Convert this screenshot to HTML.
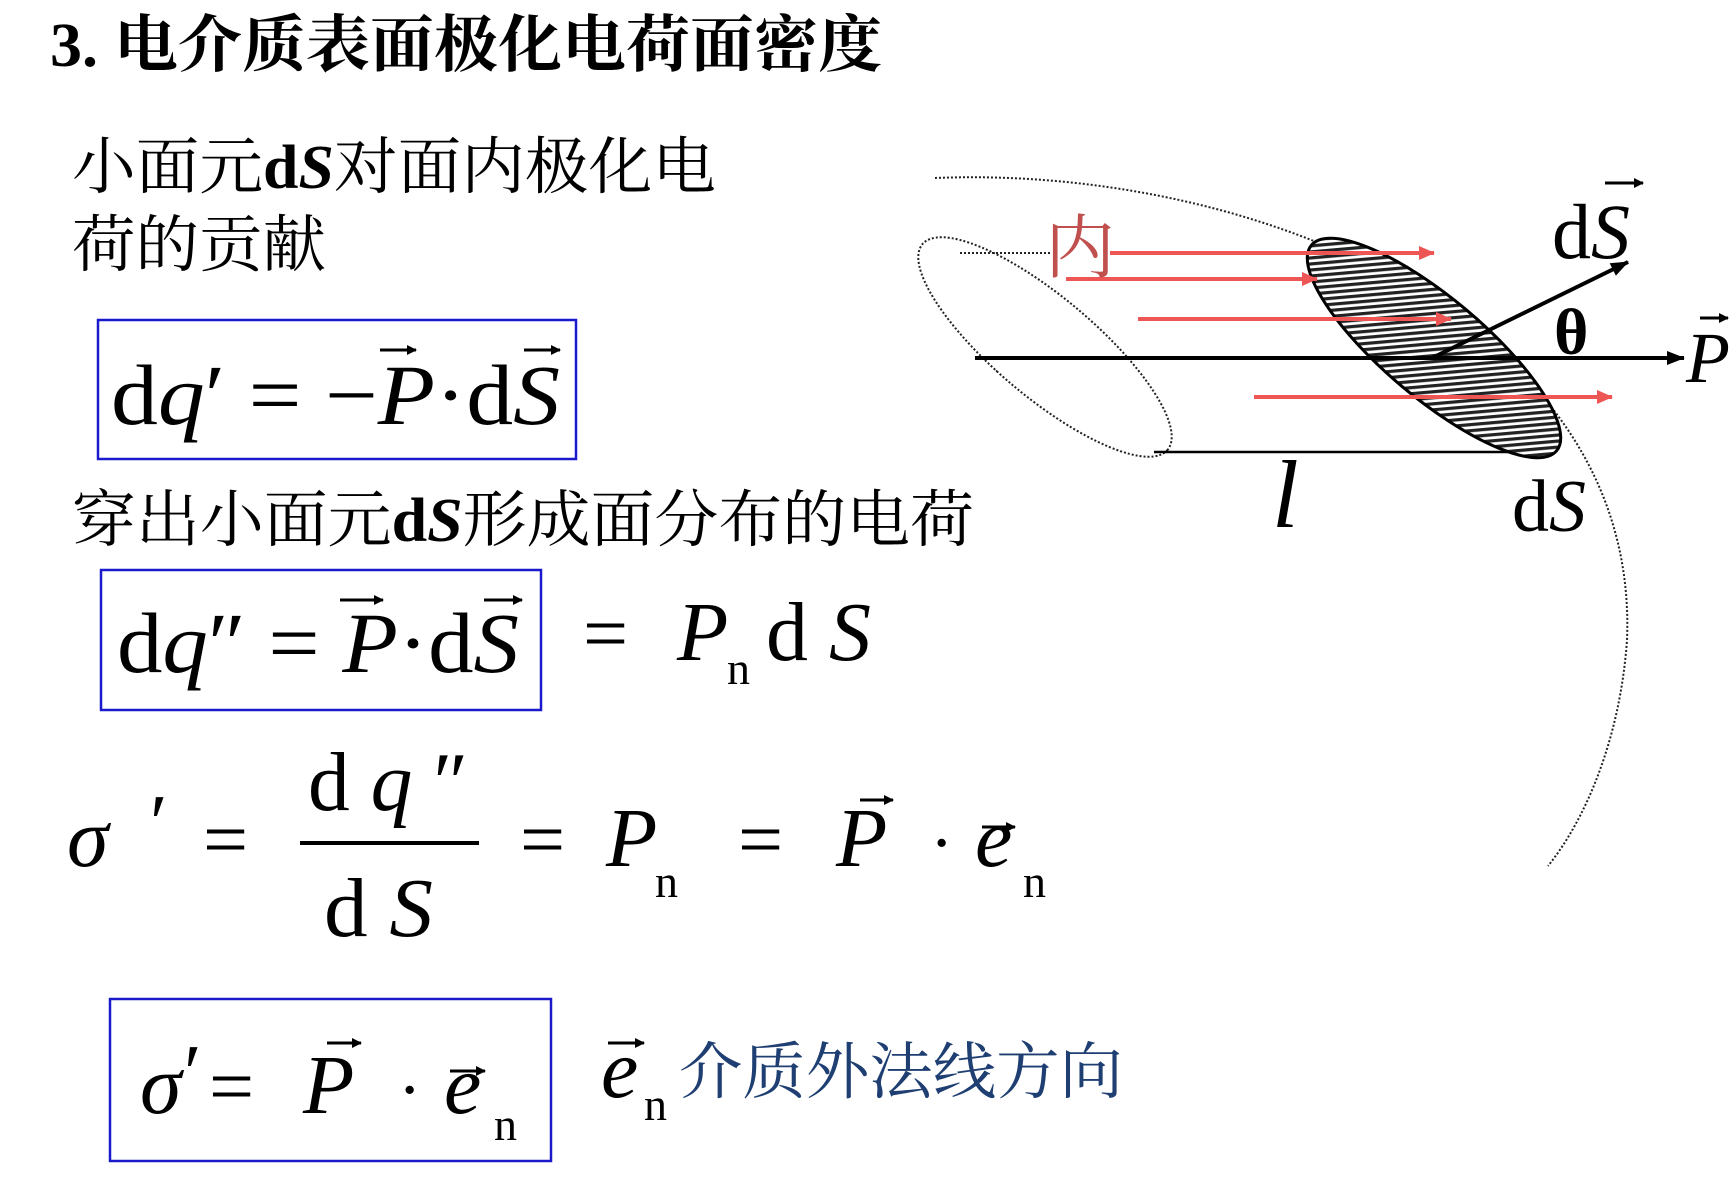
<!DOCTYPE html>
<html><head><meta charset="utf-8"><style>
html,body{margin:0;padding:0;background:#fff;}
svg{display:block}
.s{font-family:"Liberation Serif",serif}
.i{font-style:italic}
.c{font-family:"Liberation Serif","Noto Serif CJK SC",serif}
</style></head><body>
<svg width="1731" height="1188" viewBox="0 0 1731 1188" xmlns="http://www.w3.org/2000/svg">
<defs>
<pattern id="h" width="6" height="6" patternUnits="userSpaceOnUse" patternTransform="rotate(45)">
<rect width="6" height="6" fill="#fff"/><rect width="3.2" height="6" fill="#222"/></pattern>
<marker id="ab" markerWidth="10" markerHeight="10" refX="9" refY="5" orient="auto" markerUnits="userSpaceOnUse"><path d="M0,0 L20,5 L0,10z" transform="scale(0.5,1)" fill="#000"/></marker>
<marker id="ar" markerWidth="16" markerHeight="14" refX="15" refY="7" orient="auto" markerUnits="userSpaceOnUse"><path d="M0,0 L16,7 L0,14z" fill="#ee5555"/></marker>
<marker id="ak" markerWidth="18" markerHeight="14" refX="17" refY="7" orient="auto" markerUnits="userSpaceOnUse"><path d="M0,0 L18,7 L0,14z" fill="#000"/></marker>
</defs>

<text x="50" y="66" class="c" font-size="62" font-weight="bold" textLength="832" lengthAdjust="spacingAndGlyphs">3. 电介质表面极化电荷面密度</text>
<text x="72" y="188" class="c" font-size="62" textLength="644" lengthAdjust="spacingAndGlyphs">小面元<tspan font-weight="bold">d</tspan><tspan font-weight="bold" class="i">S</tspan>对面内极化电</text>
<text x="72" y="266" class="c" font-size="62" textLength="254" lengthAdjust="spacingAndGlyphs">荷的贡献</text>

<rect x="98" y="320" width="478" height="139" fill="none" stroke="#1a1acc" stroke-width="2.5"/>
<text x="111" y="424" class="s" font-size="86" textLength="449" lengthAdjust="spacingAndGlyphs">d<tspan class="i">q</tspan>′ = −<tspan class="i">P</tspan>·d<tspan class="i">S</tspan></text>
<line x1="380" y1="350" x2="416" y2="350" stroke="#000" stroke-width="3" marker-end="url(#ab)"/>
<line x1="524" y1="350" x2="560" y2="350" stroke="#000" stroke-width="3" marker-end="url(#ab)"/>

<text x="72" y="541" class="c" font-size="62" textLength="902" lengthAdjust="spacingAndGlyphs">穿出小面元<tspan font-weight="bold">d</tspan><tspan font-weight="bold" class="i">S</tspan>形成面分布的电荷</text>

<rect x="101" y="570" width="440" height="140" fill="none" stroke="#1a1acc" stroke-width="2.5"/>
<text x="117" y="672" class="s" font-size="86" textLength="402" lengthAdjust="spacingAndGlyphs">d<tspan class="i">q</tspan>″ = <tspan class="i">P</tspan>·d<tspan class="i">S</tspan></text>
<line x1="340" y1="600" x2="383" y2="600" stroke="#000" stroke-width="3" marker-end="url(#ab)"/>
<line x1="484" y1="600" x2="522" y2="600" stroke="#000" stroke-width="3" marker-end="url(#ab)"/>
<text x="583" y="660" class="s" font-size="80">=</text>
<text x="677" y="660" class="s i" font-size="84">P</text>
<text x="727" y="684" class="s" font-size="46">n</text>
<text x="766" y="660" class="s" font-size="84" textLength="105" lengthAdjust="spacingAndGlyphs">d <tspan class="i">S</tspan></text>

<text x="67" y="866" class="s i" font-size="84">σ</text>
<text x="150" y="850" class="s" font-size="80">′</text>
<text x="203" y="866" class="s" font-size="80">=</text>
<text x="308" y="810" class="s" font-size="84" textLength="160" lengthAdjust="spacingAndGlyphs">d <tspan class="i">q</tspan> ″</text>
<line x1="300" y1="843" x2="479" y2="843" stroke="#000" stroke-width="4"/>
<text x="324" y="936" class="s" font-size="84" textLength="109" lengthAdjust="spacingAndGlyphs">d <tspan class="i">S</tspan></text>
<text x="520" y="866" class="s" font-size="80">=</text>
<text x="606" y="866" class="s i" font-size="84">P</text>
<text x="655" y="897" class="s" font-size="46">n</text>
<text x="738" y="866" class="s" font-size="80">=</text>
<text x="836" y="866" class="s i" font-size="84">P</text>
<line x1="860" y1="800" x2="893" y2="800" stroke="#000" stroke-width="3" marker-end="url(#ab)"/>
<text x="930" y="866" class="s" font-size="70">·</text>
<text x="975" y="866" class="s i" font-size="84">e</text>
<line x1="982" y1="827" x2="1015" y2="827" stroke="#000" stroke-width="3" marker-end="url(#ab)"/>
<text x="1023" y="897" class="s" font-size="46">n</text>

<rect x="110" y="999" width="441" height="162" fill="none" stroke="#1a1acc" stroke-width="2.5"/>
<text x="140" y="1113" class="s i" font-size="84">σ</text>
<text x="184" y="1100" class="s" font-size="80">′</text>
<text x="209" y="1113" class="s" font-size="80">=</text>
<text x="303" y="1113" class="s i" font-size="84">P</text>
<line x1="327" y1="1043" x2="361" y2="1043" stroke="#000" stroke-width="3" marker-end="url(#ab)"/>
<text x="398" y="1113" class="s" font-size="70">·</text>
<text x="444" y="1113" class="s i" font-size="84">e</text>
<line x1="450" y1="1071" x2="485" y2="1071" stroke="#000" stroke-width="3" marker-end="url(#ab)"/>
<text x="494" y="1140" class="s" font-size="46">n</text>

<text x="601" y="1097" class="s i" font-size="84">e</text>
<line x1="608" y1="1043" x2="644" y2="1043" stroke="#000" stroke-width="3" marker-end="url(#ab)"/>
<text x="644" y="1120" class="s" font-size="46">n</text>
<text x="679" y="1093" class="c" font-size="62" fill="#1f3f73" textLength="444" lengthAdjust="spacingAndGlyphs">介质外法线方向</text>

<path d="M935,178 C1250,165 1640,320 1627,640 C1620,740 1585,820 1548,866" fill="none" stroke="#222" stroke-width="2" stroke-dasharray="2,2"/>
<ellipse cx="1045" cy="347" rx="160" ry="50" transform="rotate(40 1045 347)" fill="none" stroke="#222" stroke-width="2" stroke-dasharray="2,2"/>
<line x1="960" y1="253" x2="1050" y2="253" stroke="#222" stroke-width="2" stroke-dasharray="2,2"/>
<line x1="1154" y1="452" x2="1537" y2="452" stroke="#000" stroke-width="2.5"/>
<ellipse cx="1434" cy="348" rx="160" ry="50" transform="rotate(40 1434 348)" fill="url(#h)" stroke="#000" stroke-width="3"/>
<line x1="975" y1="358" x2="1684" y2="358" stroke="#000" stroke-width="4" marker-end="url(#ak)"/>
<line x1="1432" y1="358" x2="1628" y2="262" stroke="#000" stroke-width="4" marker-end="url(#ak)"/>
<g stroke="#ee5555" stroke-width="4">
<line x1="1110" y1="253" x2="1434" y2="253" marker-end="url(#ar)"/>
<line x1="1066" y1="279" x2="1317" y2="279" marker-end="url(#ar)"/>
<line x1="1138" y1="319" x2="1451" y2="319" marker-end="url(#ar)"/>
<line x1="1254" y1="397" x2="1612" y2="397" marker-end="url(#ar)"/>
</g>
<text x="1045" y="272" class="c" font-size="70" fill="#c0504d">内</text>
<text x="1552" y="258" class="s" font-size="78">d<tspan class="i">S</tspan></text>
<line x1="1605" y1="183" x2="1643" y2="183" stroke="#000" stroke-width="3" marker-end="url(#ab)"/>
<text x="1554" y="354" class="s" font-size="66" font-weight="bold">θ</text>
<text x="1686" y="382" class="s i" font-size="72">P</text>
<line x1="1700" y1="318" x2="1728" y2="318" stroke="#000" stroke-width="3" marker-end="url(#ab)"/>
<text x="1272" y="527" class="s i" font-size="96">l</text>
<text x="1512" y="531" class="s" font-size="74">d<tspan class="i">S</tspan></text>
</svg>
</body></html>
